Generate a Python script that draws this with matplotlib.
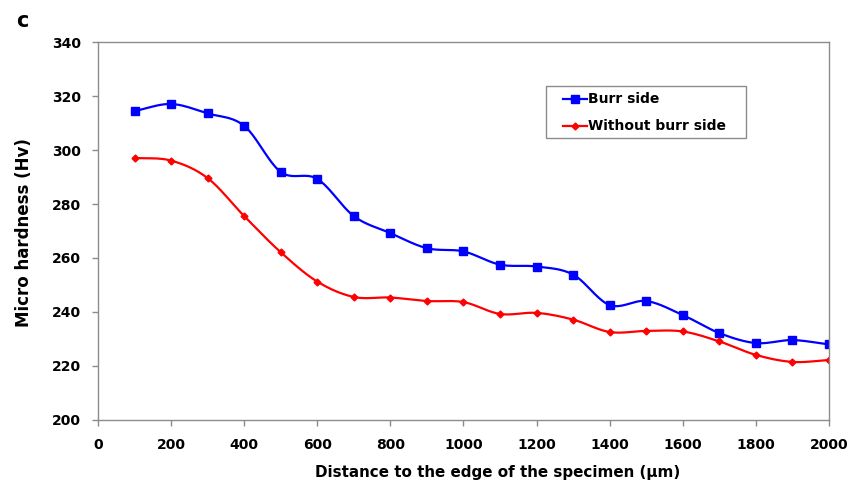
import numpy as np
import matplotlib
matplotlib.use("Agg")
import matplotlib.pyplot as plt
from matplotlib.patches import Rectangle
from matplotlib.lines import Line2D

plt.rcParams['font.family'] = ['DejaVu Sans']
plt.rcParams['font.weight'] = 'bold'

distance = [100, 200, 300, 400, 500, 600, 700, 800, 900, 1000,
            1100, 1200, 1300, 1400, 1500, 1600, 1700, 1800, 1900, 2000]
burr_side = [314.5, 317.1, 313.6, 309.0, 291.9, 289.3, 275.5, 269.2, 263.6, 262.4,
             257.5, 256.8, 253.8, 242.5, 244.0, 238.8, 232.1, 228.4, 229.5, 227.9]
without_burr = [297.1, 296.1, 289.6, 275.5, 262.1, 251.2, 245.5, 245.3, 244.0, 243.6,
                239.2, 239.6, 237.1, 232.5, 232.9, 232.7, 229.0, 224.0, 221.4, 222.1]
series_names = ["Burr side", "Without burr side"]
x_ticks = list(range(0, 2001, 200))
y_ticks = list(range(200, 341, 20))


def smooth(x, y, n=20):
    x = np.asarray(x, float)
    y = np.asarray(y, float)
    px = np.concatenate([[2 * x[0] - x[1]], x, [2 * x[-1] - x[-2]]])
    py = np.concatenate([[2 * y[0] - y[1]], y, [2 * y[-1] - y[-2]]])
    xs, ys = [], []
    t = np.linspace(0, 1, n, endpoint=False)
    for i in range(1, len(px) - 2):
        f = lambda a0, a1, a2, a3: 0.5 * ((2 * a1) + (-a0 + a2) * t +
                                          (2 * a0 - 5 * a1 + 4 * a2 - a3) * t ** 2 +
                                          (-a0 + 3 * a1 - 3 * a2 + a3) * t ** 3)
        xs.append(f(px[i - 1], px[i], px[i + 1], px[i + 2]))
        ys.append(f(py[i - 1], py[i], py[i + 1], py[i + 2]))
    xs.append([x[-1]])
    ys.append([y[-1]])
    return np.concatenate(xs), np.concatenate(ys)


W, H = 862, 486
fig = plt.figure(figsize=(W / 100, H / 100), dpi=100)
ax = fig.add_axes([98 / W, 1 - 419.6 / H, (829 - 98) / W, (419.6 - 42.3) / H])

styles = [dict(color='#0000ff', marker='s', ms=5.5), dict(color='#ff0000', marker='D', ms=3.5)]
for yv, st in zip([burr_side, without_burr], styles):
    sx, sy = smooth(distance, yv)
    ax.plot(sx, sy, color=st['color'], lw=1.6)
    ax.plot(distance, yv, ls='none', **st)

ax.set_xlim(0, 2000)
ax.set_ylim(200, 340)
ax.set_xticks(x_ticks)
ax.set_yticks(y_ticks)
for s in ax.spines.values():
    s.set_color('#8c8c8c')
    s.set_linewidth(1.0)
ax.tick_params(axis='both', direction='out', length=4, width=1, color='#8c8c8c',
               labelsize=10)
ax.tick_params(axis='x', pad=9)
ax.tick_params(axis='y', pad=8.5)
for lab in ax.get_xticklabels() + ax.get_yticklabels():
    lab.set_fontweight('bold')

fig.text(498 / W, 1 - 472 / H, 'Distance to the edge of the specimen (\u03bcm)',
         fontsize=10.9, fontweight='bold', ha='center', va='center')
fig.text(24 / W, 1 - 233 / H, 'Micro hardness (Hv)', fontsize=12, fontweight='bold',
         ha='center', va='center', rotation=90)

# legend box (pixel positions in figure coords)
def fx(px):
    return px / W


def fy(py):
    return 1 - py / H


fig.patches.append(Rectangle((fx(545.7), fy(138.3)), fx(745.7) - fx(545.7), fy(86) - fy(138.3),
                             transform=fig.transFigure, facecolor='white',
                             edgecolor='#8c8c8c', lw=1.0, zorder=5))
for row_y, name, st in zip([99, 126], series_names, styles):
    fig.lines.append(Line2D([fx(563), fx(587)], [fy(row_y)] * 2, transform=fig.transFigure,
                            color=st['color'], lw=1.6, zorder=6))
    fig.lines.append(Line2D([fx(575)], [fy(row_y)], transform=fig.transFigure, ls='none',
                            zorder=6, **st))
    fig.text(fx(588), fy(row_y), name, fontsize=10, fontweight='bold', ha='left',
             va='center', zorder=7)

fig.text(22 / W, 1 - 21 / H, 'c', fontsize=15, fontweight='bold', va='center', ha='center')

fig.savefig('out.png', dpi=100)
